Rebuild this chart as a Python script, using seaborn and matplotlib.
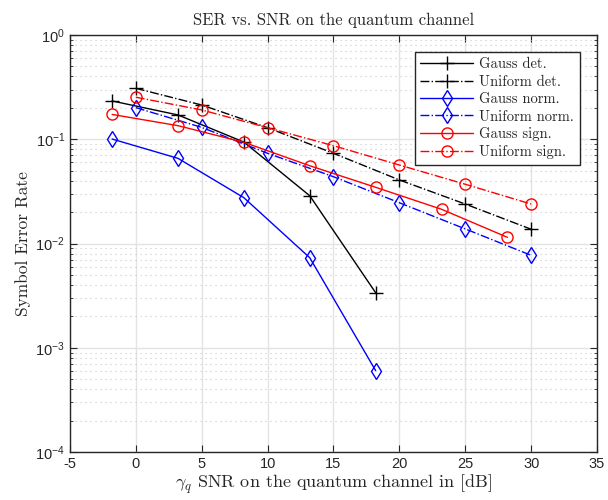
import numpy as np
import pandas as pd
import seaborn as sns
import matplotlib.pyplot as plt
from matplotlib.ticker import LogLocator, NullFormatter, MultipleLocator

# SNR grids (dB)
snr_gauss = [-1.8, 3.2, 8.2, 13.2, 18.2]
snr_gauss_sign = [-1.8, 3.2, 8.2, 13.2, 18.2, 23.2, 28.2]
snr_uniform = [0, 5, 10, 15, 20, 25, 30]

# symbol error rates
ser_gauss_det = [0.233, 0.171, 0.094, 0.0287, 0.00337]
ser_uniform_det = [0.308, 0.213, 0.129, 0.0733, 0.0407, 0.0239, 0.0137]
ser_gauss_norm = [0.1005, 0.0656, 0.0275, 0.0073, 0.000603]
ser_uniform_norm = [0.201, 0.130, 0.0733, 0.0437, 0.0246, 0.0138, 0.0077]
ser_gauss_sign = [0.173, 0.135, 0.0935, 0.0557, 0.0346, 0.0213, 0.01146]
ser_uniform_sign = [0.253, 0.191, 0.129, 0.0867, 0.0566, 0.0370, 0.0239]

labels = ["Gauss det.", "Uniform det.", "Gauss norm.", "Uniform norm.",
          "Gauss sign.", "Uniform sign."]

SERIES = [
    (labels[0], snr_gauss, ser_gauss_det, "black", "+", "-"),
    (labels[1], snr_uniform, ser_uniform_det, "black", "+", "-."),
    (labels[2], snr_gauss, ser_gauss_norm, "blue", "d", "-"),
    (labels[3], snr_uniform, ser_uniform_norm, "blue", "d", "-."),
    (labels[4], snr_gauss_sign, ser_gauss_sign, "red", "o", "-"),
    (labels[5], snr_uniform, ser_uniform_sign, "red", "o", "-."),
]

sns.set_style("ticks")
plt.rcParams["font.family"] = ["Liberation Sans", "DejaVu Sans"]
plt.rcParams["mathtext.fontset"] = "cm"
plt.rcParams["axes.unicode_minus"] = False
plt.rcParams["xtick.direction"] = "in"
plt.rcParams["ytick.direction"] = "in"

serif = "cmr10"

fig, ax = plt.subplots(figsize=(6.08, 5.0), dpi=100)
fig.subplots_adjust(left=0.115, right=0.982, top=0.93, bottom=0.096)

for name, x, y, color, marker, ls in SERIES:
    df = pd.DataFrame({"snr": x, "ser": y})
    ms = 10 if marker == "+" else 8
    sns.lineplot(data=df, x="snr", y="ser", ax=ax, color=color, linestyle=ls,
                 marker=marker, markersize=ms, markerfacecolor="none",
                 markeredgecolor=color, markeredgewidth=1.0, linewidth=1.0,
                 label=name)

ax.set_yscale("log")
ax.set_xlim(-5, 35)
ax.set_ylim(1e-4, 1)
ax.xaxis.set_major_locator(MultipleLocator(5))
ax.yaxis.set_major_locator(LogLocator(base=10, numticks=10))
ax.yaxis.set_minor_locator(LogLocator(base=10, subs=np.arange(2, 10), numticks=10))
ax.yaxis.set_minor_formatter(NullFormatter())

ax.grid(which="major", color="#e3e3e3", linewidth=1.0, linestyle="-")
ax.grid(which="minor", axis="y", color="#c8c8c8", linewidth=0.8, linestyle=(0, (1, 3.5)))
ax.set_axisbelow(True)

ax.tick_params(which="both", top=True, right=True, labelsize=10.5, colors="#262626")
ax.tick_params(which="major", length=5)
ax.tick_params(which="minor", length=2.5)
for s in ax.spines.values():
    s.set_color("#262626")
    s.set_linewidth(1.0)

ax.set_title("SER vs. SNR on the quantum channel", fontfamily=serif, fontsize=12, pad=7)
ax.set_xlabel(r"$\gamma_q$ SNR on the quantum channel in [dB]", fontfamily=serif,
              fontsize=13, labelpad=1)
ax.set_ylabel("Symbol Error Rate", fontfamily=serif, fontsize=12.5, labelpad=3)

leg = ax.legend(loc="upper right", bbox_to_anchor=(0.975, 0.97), frameon=True,
                fancybox=False, framealpha=1, edgecolor="#262626",
                prop={"family": serif, "size": 10.5}, handlelength=3.6,
                borderaxespad=0.3, labelspacing=0.25, handletextpad=0.4)
leg.get_frame().set_linewidth(1.0)

plt.savefig("out.png", dpi=100)
